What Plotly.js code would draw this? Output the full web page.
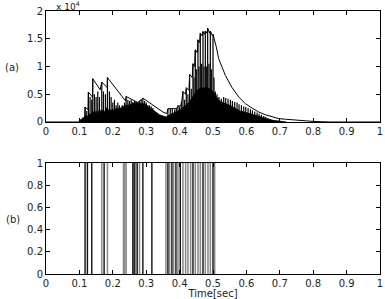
<!DOCTYPE html>
<html>
<head>
<meta charset="utf-8">
<script src="https://cdn.plot.ly/plotly-3.0.1.min.js"></script>
<style>html,body{margin:0;padding:0;background:#fff;}#chart{width:385px;height:299px;}</style>
</head>
<body>
<div id="chart"></div>
<script>
// Panel (a): envelope (units of 1e4)
var envT = [0,0.1,0.105,0.116,0.117,0.126,0.127,0.139,0.14,0.162,0.167,0.183,0.184,0.21,0.238,0.24,0.26,0.275,0.29,0.31,0.33,0.35,0.362,0.365,0.39,0.395,0.405,0.41,0.418,0.42,0.428,0.43,0.438,0.44,0.445,0.447,0.453,0.455,0.46,0.462,0.468,0.47,0.475,0.477,0.482,0.484,0.49,0.492,0.498,0.5,0.51,0.517,0.537,0.557,0.577,0.597,0.617,0.637,0.657,0.677,0.697,0.717,0.75,0.8,0.85,1];
var envV = [0,0,0.05,0.04,0.27,0.22,0.54,0.45,0.78,0.58,0.72,0.62,0.8,0.6,0.38,0.46,0.39,0.35,0.43,0.35,0.26,0.18,0.15,0.24,0.24,0.28,0.3,0.55,0.5,0.62,0.57,0.86,0.8,1.05,1.0,1.3,1.25,1.48,1.43,1.6,1.55,1.63,1.58,1.64,1.6,1.69,1.6,1.64,1.56,1.58,1.35,1.14,0.84,0.62,0.45,0.33,0.25,0.18,0.13,0.09,0.06,0.05,0.03,0.01,0,0];

// Panel (a): individual oscillation spikes (time, peak height)
var spikeT = [0.105,0.11,0.117,0.122,0.127,0.132,0.137,0.14,0.145,0.15,0.155,0.16,0.167,0.172,0.178,0.184,0.19,0.195,0.2,0.205,0.21,0.215,0.22,0.228,0.235,0.24,0.245,0.25,0.255,0.26,0.265,0.27,0.275,0.28,0.285,0.29,0.295,0.3,0.305,0.31,0.315,0.32,0.325,0.33,0.335,0.34,0.35,0.36,0.365,0.372,0.378,0.385,0.39,0.395,0.4,0.405,0.41,0.415,0.42,0.425,0.43,0.435,0.44,0.443,0.447,0.45,0.455,0.458,0.462,0.466,0.47,0.473,0.477,0.48,0.484,0.488,0.492,0.495,0.5,0.503,0.507,0.512,0.518,0.525,0.532,0.538,0.545,0.552,0.558,0.565,0.572,0.578,0.585,0.592,0.598,0.605,0.612,0.618,0.625,0.632,0.638,0.645,0.652,0.658,0.665,0.672,0.68];
var spikeH = [0.05,0.08,0.27,0.2,0.54,0.45,0.4,0.78,0.5,0.45,0.55,0.45,0.72,0.55,0.5,0.8,0.55,0.45,0.35,0.4,0.3,0.35,0.3,0.3,0.35,0.46,0.4,0.38,0.4,0.35,0.38,0.35,0.36,0.38,0.4,0.43,0.38,0.35,0.3,0.3,0.28,0.25,0.2,0.18,0.15,0.12,0.1,0.1,0.24,0.24,0.24,0.22,0.25,0.3,0.28,0.35,0.55,0.4,0.6,0.5,0.85,0.6,1.05,0.8,1.3,0.95,1.48,1.0,1.6,1.05,1.63,1.0,1.64,1.0,1.69,1.05,1.64,0.95,1.58,0.8,0.55,0.5,0.45,0.42,0.45,0.43,0.42,0.4,0.38,0.36,0.35,0.32,0.3,0.28,0.27,0.25,0.23,0.21,0.19,0.17,0.15,0.13,0.11,0.09,0.07,0.05,0.03];

// Panel (a): dense oscillation floor
var fillT = [0.1,0.105,0.11,0.115,0.12,0.125,0.13,0.135,0.14,0.145,0.15,0.155,0.16,0.165,0.17,0.175,0.18,0.185,0.19,0.195,0.2,0.205,0.21,0.215,0.22,0.225,0.23,0.235,0.24,0.245,0.25,0.255,0.26,0.265,0.27,0.275,0.28,0.285,0.29,0.295,0.3,0.305,0.31,0.315,0.32,0.33,0.34,0.35,0.36,0.37,0.38,0.39,0.4,0.41,0.42,0.43,0.44,0.45,0.46,0.47,0.48,0.49,0.5,0.51,0.52,0.53,0.54,0.55,0.56,0.57,0.58,0.6,0.62,0.64,0.66,0.68,0.7,0.72];
var fillV = [0,0.03,0.05,0.08,0.12,0.1,0.15,0.12,0.2,0.15,0.2,0.15,0.23,0.18,0.22,0.17,0.26,0.2,0.24,0.2,0.23,0.2,0.25,0.22,0.27,0.24,0.29,0.26,0.31,0.28,0.33,0.3,0.35,0.32,0.36,0.33,0.35,0.32,0.34,0.3,0.32,0.27,0.27,0.22,0.22,0.17,0.13,0.11,0.09,0.13,0.16,0.19,0.21,0.26,0.31,0.36,0.46,0.56,0.6,0.61,0.62,0.6,0.55,0.45,0.38,0.35,0.33,0.3,0.27,0.24,0.2,0.17,0.13,0.09,0.06,0.03,0.01,0];

// Panel (b): spike train times
var blackSpikes = [0.117,0.124,0.137,0.174,0.26,0.264,0.273,0.29,0.317,0.365,0.377,0.389,0.402,0.44,0.47,0.5];
var greySpikes = [0.167,0.184,0.232,0.236,0.24,0.268,0.28,0.359,0.37,0.382,0.395,0.41,0.418,0.425,0.433,0.447,0.455,0.462,0.477,0.485,0.492,0.505];

function stems(ts, hs) {
  var x = [], y = [];
  for (var i = 0; i < ts.length; i++) {
    x.push(ts[i], ts[i], null);
    y.push(0, hs ? hs[i] : 1, null);
  }
  return {x: x, y: y};
}
var sA = stems(spikeT, spikeH);
var sB = stems(blackSpikes);
var sG = stems(greySpikes);

var traces = [
  {x: fillT, y: fillV, type: 'scatter', mode: 'lines', fill: 'tozeroy', fillcolor: '#000', line: {color: '#000', width: 0.8}, xaxis: 'x', yaxis: 'y', hoverinfo: 'skip'},
  {x: sA.x, y: sA.y, type: 'scatter', mode: 'lines', line: {color: '#000', width: 1.2}, connectgaps: false, xaxis: 'x', yaxis: 'y'},
  {x: envT, y: envV, type: 'scatter', mode: 'lines', line: {color: '#000', width: 1}, xaxis: 'x', yaxis: 'y'},
  {x: sG.x, y: sG.y, type: 'scatter', mode: 'lines', line: {color: '#888', width: 1.5}, connectgaps: false, xaxis: 'x2', yaxis: 'y2'},
  {x: sB.x, y: sB.y, type: 'scatter', mode: 'lines', line: {color: '#111', width: 1.4}, connectgaps: false, xaxis: 'x2', yaxis: 'y2'}
];

var axBase = {
  showgrid: false, zeroline: false, showline: true, linecolor: '#000', linewidth: 1,
  mirror: 'allticks', ticks: 'inside', ticklen: 4, tickcolor: '#000',
  tickfont: {family: 'DejaVu Sans', size: 10, color: '#222'}
};
function ax(o) { var r = {}; for (var k in axBase) r[k] = axBase[k]; for (var k2 in o) r[k2] = o[k2]; return r; }

var layout = {
  width: 385, height: 299,
  margin: {l: 46, r: 5, t: 11, b: 25},
  paper_bgcolor: '#fff', plot_bgcolor: '#fff',
  showlegend: false,
  xaxis: ax({domain: [0, 1], range: [0, 1], tickvals: [0,0.1,0.2,0.3,0.4,0.5,0.6,0.7,0.8,0.9,1], anchor: 'y'}),
  yaxis: ax({domain: [0.578, 1], range: [0, 2], tickvals: [0,0.5,1,1.5,2], anchor: 'x'}),
  xaxis2: ax({domain: [0, 1], range: [0, 1], tickvals: [0,0.1,0.2,0.3,0.4,0.5,0.6,0.7,0.8,0.9,1], anchor: 'y2',
    title: {text: 'Time[sec]', font: {family: 'DejaVu Sans', size: 10, color: '#222'}, standoff: 2}}),
  yaxis2: ax({domain: [0, 0.422], range: [0, 1], tickvals: [0,0.2,0.4,0.6,0.8,1], anchor: 'x2'}),
  annotations: [
    {text: 'x 10<sup>4</sup>', xref: 'paper', yref: 'paper', x: 0.025, y: 1.0, xanchor: 'left', yanchor: 'bottom', yshift: -3, showarrow: false, font: {family: 'DejaVu Sans', size: 9, color: '#222'}},
    {text: '(a)', xref: 'paper', yref: 'paper', x: -0.102, y: 0.787, xanchor: 'center', yanchor: 'middle', showarrow: false, font: {family: 'DejaVu Sans', size: 10, color: '#222'}},
    {text: '(b)', xref: 'paper', yref: 'paper', x: -0.099, y: 0.209, xanchor: 'center', yanchor: 'middle', showarrow: false, font: {family: 'DejaVu Sans', size: 10, color: '#222'}}
  ]
};

Plotly.newPlot('chart', traces, layout, {displayModeBar: false, staticPlot: true});
</script>
</body>
</html>
